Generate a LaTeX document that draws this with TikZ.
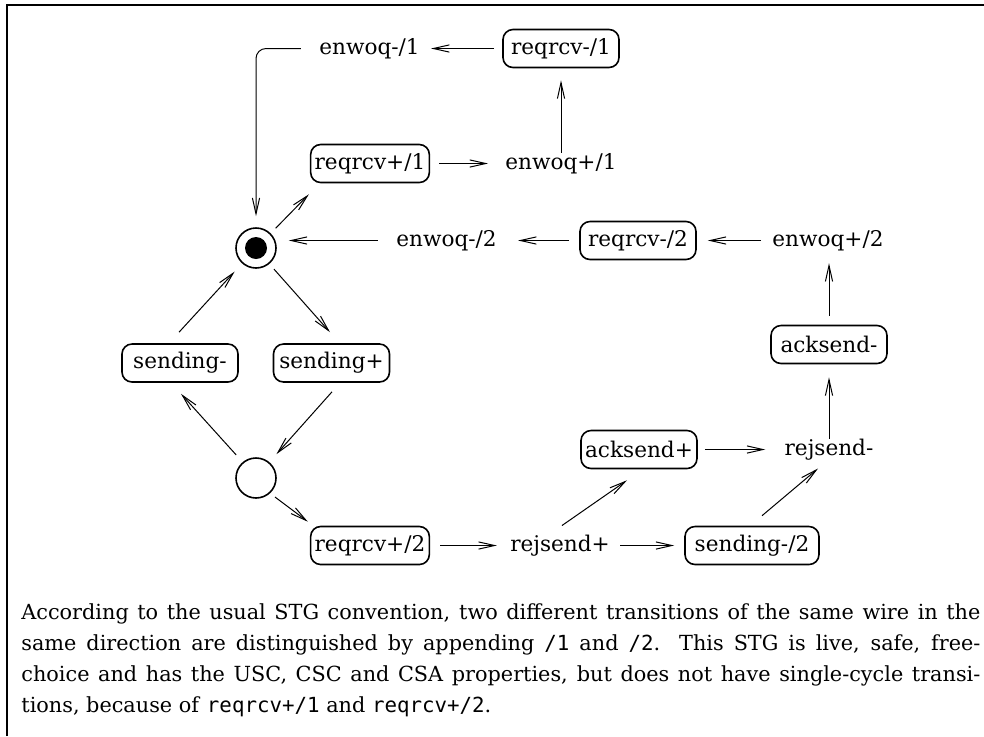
\documentclass[tikz,border=0pt]{standalone}
\usepackage{fontspec}
\setmainfont{DejaVu Serif}
\setmonofont{DejaVu Sans Mono}
\usetikzlibrary{arrows.meta}

\newcommand\dgfont{\fontsize{10.8}{13}\selectfont}
\newcommand\capfont{\fontsize{10.4}{12.5}\selectfont}

\begin{document}
\begin{tikzpicture}[x=0.5pt,y=-0.5pt,
  tr/.style={draw, rounded corners=5pt, line width=0.8pt, minimum height=19pt,
             minimum width=58pt, inner xsep=2pt, inner ysep=0pt, font=\dgfont},
  lab/.style={inner sep=0pt, font=\dgfont},
  place/.style={circle, draw, line width=0.8pt, minimum size=20pt, inner sep=0pt},
  arr/.style={line width=0.5pt, -{Straight Barb[length=8pt,width=3.6pt,line width=0.5pt]}},
  capline/.style={anchor=base west, inner sep=0pt, font=\capfont}]

\useasboundingbox (0,0) rectangle (984,736);
% frame
\draw[line width=1pt] (7,736) -- (7,5) -- (984,5);

% places
\node[place] (P1) at (256,248) {};
\fill (P1.center) circle[radius=5.5pt];
\node[place] (P2) at (256,478) {};

% transitions
\node[tr]  (rm1) at (561,48.5)  {reqrcv-/1};
\node[lab] (em1) at (369.5,48.5) {enwoq-/1};
\node[tr]  (rp1) at (370,163.5) {reqrcv+/1};
\node[lab] (ep1) at (561,163.5) {enwoq+/1};
\node[lab] (em2) at (446.5,240.5) {enwoq-/2};
\node[tr]  (rm2) at (638,240.5) {reqrcv-/2};
\node[lab] (ep2) at (828,240.5) {enwoq+/2};
\node[tr]  (am)  at (829,344.5) {acksend-};
\node[tr]  (ap)  at (639,449.5) {acksend+};
\node[lab] (rjm) at (829,449.5) {rejsend-};
\node[tr]  (sm)  at (180,363)   {sending-};
\node[tr]  (sp)  at (331.5,363) {sending+};
\node[tr]  (rp2) at (370,545.5) {reqrcv+/2};
\node[lab] (rjp) at (560,545.5) {rejsend+};
\node[tr, minimum width=67pt] (sm2) at (752,545.5) {sending-/2};

% arcs
\draw[arr, shorten <=4pt, shorten >=5.5pt] (rm1.west) -- (em1.east);
\draw[arr, rounded corners=5pt, shorten >=5.5pt] ([xshift=-9pt]em1.west) -| (P1.north);
\draw[arr, shorten <=4.5pt, shorten >=8.5pt] (rp1.east) -- (ep1.west);
\draw[arr, shorten >=6pt] (ep1.north) -- (rm1.south);
\draw[arr, shorten <=3.5pt] (P1.45) -- ([shift={(-1,11)}]rp1.south west);
\draw[arr, shorten <=9pt, shorten >=6pt] (em2.west) -- (em2.west -| P1.east);
\draw[arr, shorten <=5pt, shorten >=10.5pt] (rm2.west) -- (em2.east);
\draw[arr, shorten <=5.5pt, shorten >=5.5pt] (ep2.west) -- (rm2.east);
\draw[arr, shorten <=4.5pt, shorten >=6pt] (am.north) -- (am.north |- ep2.south);
\draw[arr, shorten >=6.5pt] (rjm.north) -- (rjm.north |- am.south);
\draw[arr, shorten <=3.5pt, shorten >=9.5pt] (ap.east) -- (rjm.west);
\draw[arr] ([shift={(2,-9)}]rjp.north) -- ([shift={(-12,11)}]ap.south);
\draw[arr] ([shift={(10,-10)}]sm2.north) -- ([shift={(-11,8)}]rjm.south);
\draw[arr, shorten <=5pt, shorten >=6.5pt] (rp2.east) -- (rjp.west);
\draw[arr, shorten <=5pt, shorten >=5pt] (rjp.east) -- (sm2.west);
\draw[arr, shorten <=3.5pt] (P1.-50) -- ([shift={(-1.5,-11)}]sp.north);
\draw[arr, shorten >=5.5pt] ([shift={(-1,-11)}]sm.north) -- (P1.-132);
\draw[arr, shorten >=5.3pt] ([shift={(0.5,9)}]sp.south) -- (P2.50);
\draw[arr, shorten <=4.8pt] (P2.130) -- ([shift={(1,11)}]sm.south);
\draw[arr] ([shift={(19,19)}]P2.center) -- ([shift={(-2,-4)}]rp2.north west);

% caption
\node[capline] (c1) at (21,619) {\makebox[479.5pt][s]{According to the usual STG convention, two different transitions of the same wire in the}};
\node[capline] (c2) at (21,650.3) {\makebox[479.5pt][s]{same direction are distinguished by appending \texttt{/1} and \texttt{/2}. This STG is live, safe, free-}};
\node[capline] (c3) at (21,681.6) {\makebox[479.5pt][s]{choice and has the USC, CSC and CSA properties, but does not have single-cycle transi-}};
\node[capline] (c4) at (21,712.9) {tions, because of \texttt{reqrcv+/1} and \texttt{reqrcv+/2}.};
\end{tikzpicture}
\end{document}
